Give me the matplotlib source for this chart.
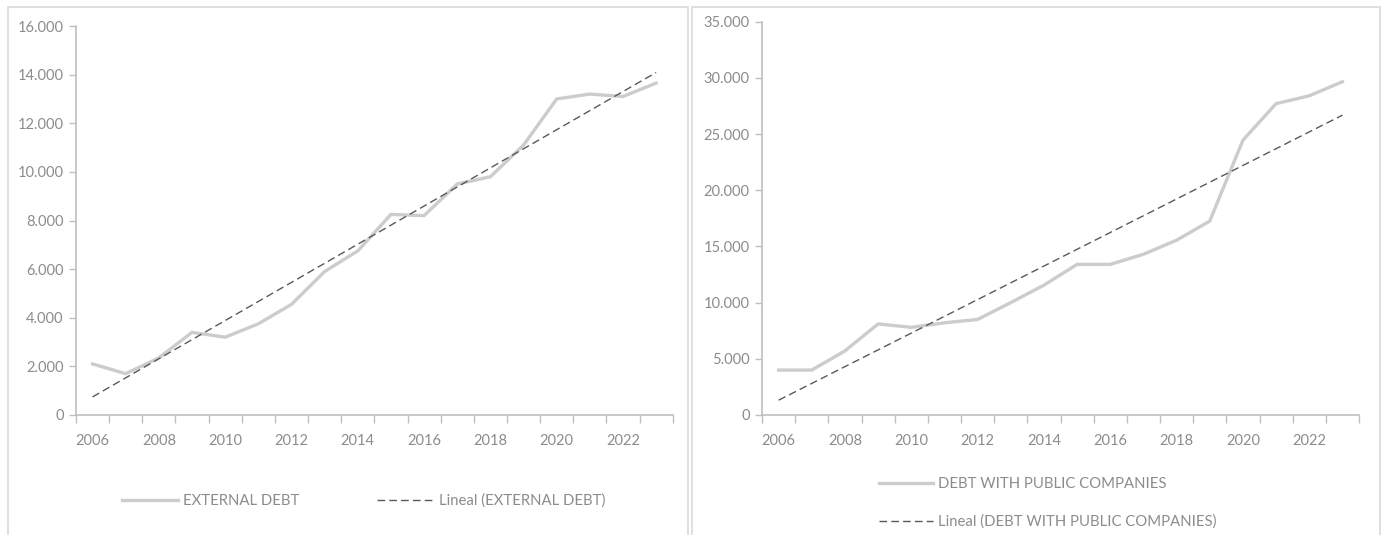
import numpy as np
import matplotlib
matplotlib.use("Agg")
import matplotlib.pyplot as plt
from matplotlib.patches import Rectangle
from matplotlib.ticker import FuncFormatter, FixedLocator

years = list(range(2006, 2024))
year_labels = [str(y) if y % 2 == 0 else "" for y in years]
external_debt = [2100, 1700, 2350, 3400, 3200, 3750, 4550, 5900, 6750, 8250,
                 8200, 9500, 9800, 11100, 13000, 13200, 13100, 13650]
public_companies_debt = [4000, 4000, 5700, 8100, 7800, 8200, 8500, 10000, 11550, 13400,
                         13400, 14300, 15550, 17250, 24450, 27700, 28400, 29650]

plt.rcParams['font.family'] = ['Lato', 'DejaVu Sans']

W, H = 1384, 535
fig = plt.figure(figsize=(W / 100, H / 100), dpi=100)

TXT = '#8c8c8c'
AX = '#bfbfbf'
SER = '#cccccc'
TREND = '#595959'
FS = 10.7

# panel borders
for x0, x1 in [(8, 688), (692, 1380)]:
    fig.patches.append(Rectangle((x0 / W, -0.05), (x1 - x0) / W, 1.05 - 7 / H,
                                 transform=fig.transFigure, fill=False,
                                 edgecolor='#d9d9d9', linewidth=1.2))


def fmt(v, pos):
    if v == 0:
        return "0"
    return f"{int(v):,}".replace(",", ".")


def make_axes(rect, data, ymax, ystep, name):
    ax = fig.add_axes(rect)
    x = np.arange(len(years))
    ax.plot(x, data, color=SER, lw=2.4, solid_joinstyle='miter', label=name)
    coef = np.polyfit(x, data, 1)
    ax.plot(x, np.polyval(coef, x), color=TREND, lw=1.0, ls=(0, (5.5, 3)),
            label=f"Lineal ({name})")
    ax.set_xlim(-0.5, len(years) - 0.5)
    ax.set_ylim(0, ymax)
    ax.set_yticks(np.arange(0, ymax + 1, ystep))
    ax.yaxis.set_major_formatter(FuncFormatter(fmt))
    ax.xaxis.set_major_locator(FixedLocator(np.arange(-0.5, len(years), 1.0)))
    ax.set_xticklabels([])
    ax.set_xticks(x, minor=True)
    ax.set_xticklabels(year_labels, minor=True)
    ax.tick_params(axis='x', which='major', length=6, color=AX, width=1, direction='out')
    ax.tick_params(axis='x', which='minor', length=0, pad=14, labelsize=10.5, labelcolor=TXT)
    ax.tick_params(axis='y', length=5, color=AX, width=1, labelsize=10.5, labelcolor=TXT, pad=4)
    for s in ['top', 'right']:
        ax.spines[s].set_visible(False)
    for s in ['left', 'bottom']:
        ax.spines[s].set_color(AX)
        ax.spines[s].set_linewidth(1.2)
    return ax


axL = make_axes([76 / W, (H - 415) / H, 596.7 / W, 389 / H], external_debt, 16000, 2000,
                "EXTERNAL DEBT")
axR = make_axes([762 / W, (H - 415) / H, 597 / W, 393.4 / H], public_companies_debt, 35000, 5000,
                "DEBT WITH PUBLIC COMPANIES")

legL = fig.legend(*axL.get_legend_handles_labels(), loc='center',
                  bbox_to_anchor=(363.5 / W, 1 - 501 / H), ncol=2, frameon=False,
                  fontsize=FS, labelcolor=TXT, handlelength=3.8, columnspacing=5.2,
                  handletextpad=0.35)
legR = fig.legend(*axR.get_legend_handles_labels(), loc='center left',
                  bbox_to_anchor=(866 / W, 1 - 503 / H), ncol=1, frameon=False,
                  fontsize=FS, labelcolor=TXT, handlelength=3.6, labelspacing=1.6,
                  handletextpad=0.35)

fig.savefig("out.png", dpi=100)
